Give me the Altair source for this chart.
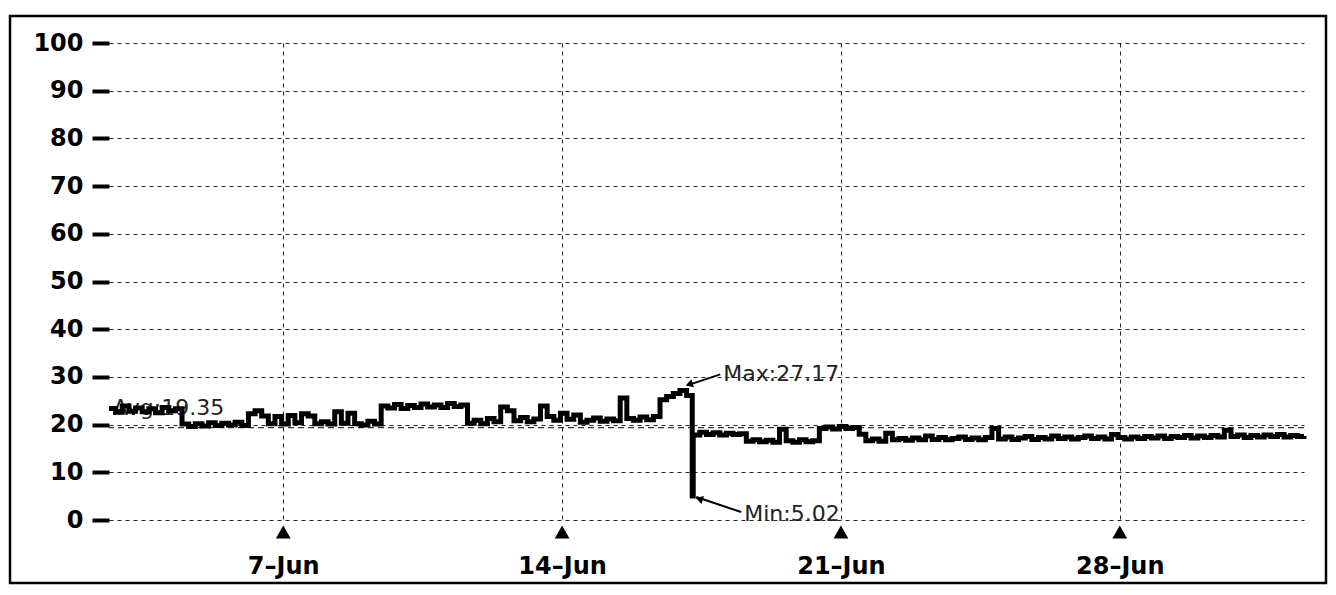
import altair as alt
import pandas as pd

# ---------------- data ----------------
START = "2021-06-02 15:00"
STEP_HOURS = 4
VALUES = [
    23.4, 22.6, 23.9, 22.8, 23.5, 22.7, 23.3, 22.5, 23.6, 22.9,
    23.3, 20.1, 19.6, 20.2, 19.7, 20.4, 19.8, 20.3, 19.9, 20.5,
    19.8, 22.3, 22.9, 21.8, 20.2, 21.7, 20.1, 21.9, 20.4, 22.3,
    21.8, 20.2, 20.6, 20.1, 22.7, 20.3, 22.4, 20.2, 19.9, 20.7,
    20.1, 23.9, 23.5, 24.2, 23.4, 24.0, 23.6, 24.3, 23.7, 24.1,
    23.6, 24.4, 23.8, 24.1, 20.3, 20.9, 20.2, 21.3, 20.6, 23.7,
    22.9, 20.8, 21.5, 20.6, 21.2, 23.9, 21.7, 20.9, 22.4, 21.1,
    22.0, 20.5, 20.9, 21.4, 20.7, 21.2, 20.8, 25.6, 21.3, 20.9,
    21.6, 21.0, 21.7, 25.2, 25.9, 26.5, 27.17, 26.1, 17.8, 18.4,
    17.9, 18.3, 17.8, 18.2, 17.9, 18.1, 16.5, 16.8, 16.4, 16.7,
    16.3, 19.0, 16.6, 16.3, 16.8, 16.4, 16.6, 19.2, 19.5, 19.1,
    19.6, 19.2, 19.4, 18.0, 16.6, 17.0, 16.5, 18.2, 16.8, 17.1,
    16.7, 17.2, 16.8, 17.6, 16.9, 17.3, 16.8, 17.1, 17.4, 16.9,
    17.2, 16.8, 17.3, 19.2, 17.0, 17.4, 16.9, 17.2, 17.5, 16.9,
    17.3, 17.0, 17.6, 17.1, 17.4, 17.0, 17.3, 17.6, 17.1, 17.4,
    17.0, 17.9, 17.3, 17.0, 17.4, 17.1, 17.5, 17.2, 17.6, 17.1,
    17.5, 17.3, 17.7, 17.2, 17.6, 17.3, 17.7, 17.4, 18.8, 17.5,
    17.8, 17.3, 17.7, 17.4, 17.8, 17.5, 17.9, 17.4, 17.7, 17.5,
    17.6,
]
MIN_HOUR = 351.4
MIN_VALUE = 5.02
AVG_VALUE = 19.35
TICK_DATES = ["2021-06-07T00:00:00", "2021-06-14T00:00:00",
              "2021-06-21T00:00:00", "2021-06-28T00:00:00"]
TICK_DAYS = [7, 14, 21, 28]
Y_TICKS = [0, 10, 20, 30, 40, 50, 60, 70, 80, 90, 100]

# ---------------- build tables ----------------
start = pd.Timestamp(START)
times = [start + pd.Timedelta(hours=STEP_HOURS * i) for i in range(len(VALUES))]
series = pd.DataFrame({"t": times, "v": VALUES})
min_time = start + pd.Timedelta(hours=MIN_HOUR)
series = pd.concat([series, pd.DataFrame({"t": [min_time], "v": [MIN_VALUE]})])
series = series.sort_values("t").reset_index(drop=True)
series["t"] = series["t"].dt.strftime("%Y-%m-%dT%H:%M:%S")

imax = max(range(len(VALUES)), key=lambda i: VALUES[i])
max_time = times[imax] + pd.Timedelta(hours=STEP_HOURS / 2)
max_df = pd.DataFrame({"t": [max_time.strftime("%Y-%m-%dT%H:%M:%S")],
                       "v": [VALUES[imax]],
                       "label": [f"Max:{VALUES[imax]:.2f}"]})
min_df = pd.DataFrame({"t": [min_time.strftime("%Y-%m-%dT%H:%M:%S")],
                       "v": [MIN_VALUE],
                       "label": [f"Min:{MIN_VALUE:.2f}"]})
avg_df = pd.DataFrame({"t": [start.strftime("%Y-%m-%dT%H:%M:%S")],
                       "v": [AVG_VALUE],
                       "label": [f"Avg:{AVG_VALUE:.2f}"]})
ticks_df = pd.DataFrame({"t": TICK_DATES})
frame_df = pd.DataFrame({"a": [0]})

W, H = 1195, 477
FONT = "DejaVu Sans"

x_scale = alt.Scale(domain=[alt.DateTime(year=2021, month=6, date=2, hours=15),
                            alt.DateTime(year=2021, month=7, date=2, hours=15)],
                    nice=False)
y_scale = alt.Scale(domain=[0, 100], nice=False)

x_axis = alt.Axis(
    title=None,
    values=[alt.DateTime(year=2021, month=6, date=d) for d in TICK_DAYS],
    format="%-d\u2013%b",
    domain=False, ticks=False, tickSize=0,
    labelPadding=34, labelFont=FONT, labelFontSize=24, labelFontWeight="bold",
    labelColor="black",
    grid=True, gridDash=[4, 4], gridColor="black", gridWidth=1, gridOpacity=0.85,
)
y_axis = alt.Axis(
    title=None, values=Y_TICKS, domain=False,
    ticks=True, tickSize=17, tickWidth=4, tickColor="black",
    labelPadding=9, labelFont=FONT, labelFontSize=24, labelFontWeight="bold",
    labelColor="black",
    grid=True, gridDash=[4, 4], gridColor="black", gridWidth=1, gridOpacity=0.85,
)

X = alt.X("t:T", scale=x_scale, axis=x_axis)
Y = alt.Y("v:Q", scale=y_scale, axis=y_axis)

frame = alt.Chart(frame_df).mark_rect(
    fillOpacity=0, stroke="black", strokeWidth=2.5
).encode(
    x=alt.value(-99), x2=alt.value(W + 22), y=alt.value(-27), y2=alt.value(H + 63)
)

avg_text = alt.Chart(avg_df).mark_text(
    align="left", baseline="middle", dx=4, dy=-20, fontSize=22, font=FONT, color="#222"
).encode(x=X, y=Y, text="label:N")

avg_rule = alt.Chart(avg_df).mark_rule(
    color="black", strokeWidth=1, strokeDash=[6, 4]
).encode(y=Y)

line = alt.Chart(series).mark_line(
    interpolate="step-after", color="black", strokeWidth=5
).encode(x=X, y=Y)

def annotation(df, tip, tail, head, angle, text_dx, text_dy):
    base = alt.Chart(df).encode(x=X, y=Y)
    rule = base.mark_rule(
        color="black", strokeWidth=2,
        xOffset=tip[0], yOffset=tip[1], x2Offset=tail[0], y2Offset=tail[1]
    ).encode(x2="t:T", y2="v:Q")
    arrow = base.mark_point(
        shape="triangle-up", filled=True, color="black", opacity=1, size=70,
        angle=angle, xOffset=head[0], yOffset=head[1]
    )
    label = base.mark_text(
        align="left", baseline="middle", dx=text_dx, dy=text_dy,
        fontSize=22, font=FONT, color="#222"
    ).encode(text="label:N")
    return rule + arrow + label

max_ann = annotation(max_df, (4, -5), (37, -16), (6, -6), 251, 40, -16)
min_ann = annotation(min_df, (4, 1), (49, 16), (7, 3), 287, 52, 18)

tick_marks = alt.Chart(ticks_df).mark_point(
    shape="triangle-up", filled=True, color="black", opacity=1, size=220
).encode(x=X, y=alt.value(H + 12))

chart = alt.layer(
    frame, avg_text, avg_rule, line, max_ann, min_ann, tick_marks
).properties(
    width=W, height=H,
    padding={"left": 0, "top": 6, "right": 0, "bottom": 0},
    background="white",
).configure_view(stroke="transparent")

chart.save("out.html", embed_options={"renderer": "svg", "actions": False})
